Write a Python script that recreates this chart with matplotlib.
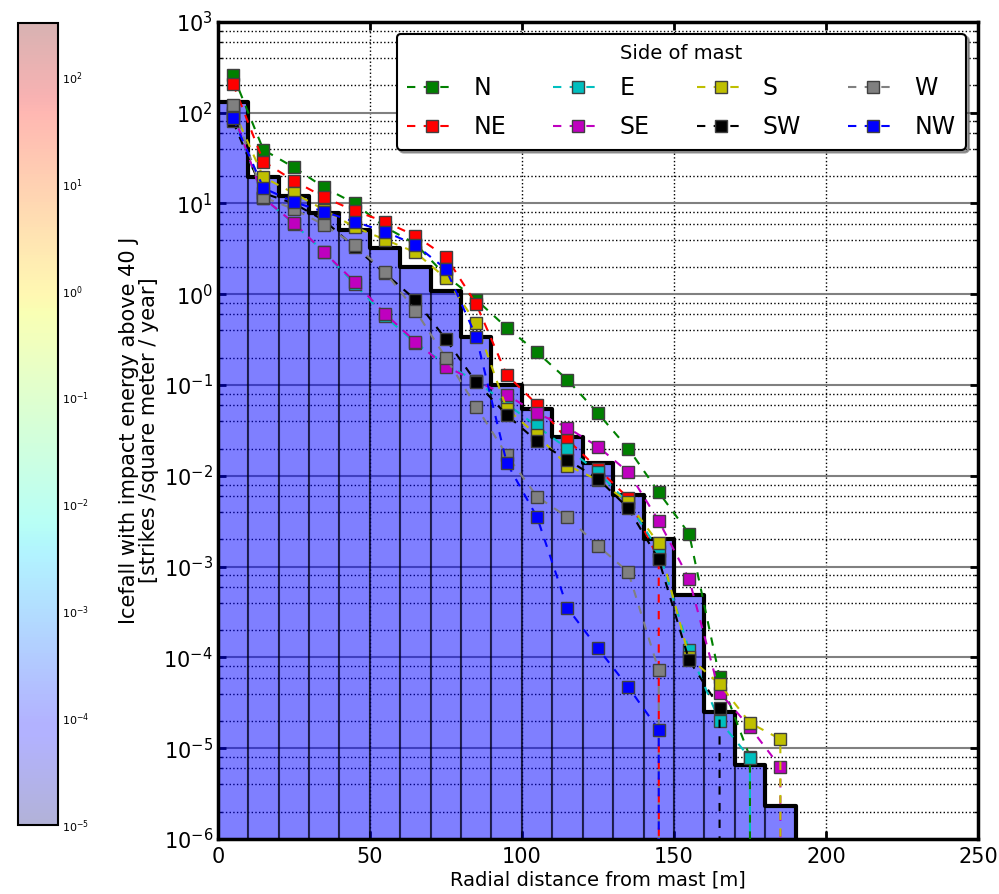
import numpy as np
import matplotlib
matplotlib.use("Agg")
import matplotlib.pyplot as plt
from matplotlib.colors import LogNorm, ListedColormap
from matplotlib.cm import ScalarMappable
from matplotlib.ticker import LogLocator, NullFormatter

# radial bins [m]
bin_edges = [0, 10, 20, 30, 40, 50, 60, 70, 80, 90, 100, 110, 120, 130, 140, 150, 160, 170, 180, 190]
# all-sides icefall density per bin (strikes / m2 / year)
all_sides = [130, 19.5, 12, 7.8, 5.1, 3.2, 2.0, 1.1, 0.34, 0.10, 0.054, 0.027, 0.014, 0.0062,
             0.0020, 4.9e-4, 2.5e-5, 6.5e-6, 2.3e-6]

# bin centres used for the per-side markers (last one is empty for all sides)
centres = [5, 15, 25, 35, 45, 55, 65, 75, 85, 95, 105, 115, 125, 135, 145, 155, 165, 175, 185, 195]

side_N = [260, 39, 25, 15, 10, 5.5, 3.6, 1.6, 0.87, 0.43, 0.23, 0.114, 0.049, 0.020, 0.0066, 0.0023, 6.1e-5, 8e-6, 0, 0]
side_NE = [208, 29, 17.8, 11.7, 8.3, 6.3, 4.4, 2.6, 0.78, 0.13, 0.061, 0.025, 0.012, 0.0057, 0.0012, 0, 0, 0, 0, 0]
side_E = [95, 11.5, 6.0, 2.9, 1.3, 0.57, 0.29, 0.17, 0.11, 0.062, 0.035, 0.020, 0.011, 0.005, 0.0015, 1.2e-4, 2.0e-5, 7.8e-6, 0, 0]
side_SE = [100, 11.5, 6.1, 2.9, 1.37, 0.61, 0.30, 0.16, 0.11, 0.078, 0.049, 0.034, 0.021, 0.011, 0.0032, 7.3e-4, 4.1e-5, 1.7e-5, 6.2e-6, 0]
side_S = [110, 19.5, 13, 8.5, 5.5, 4.0, 2.9, 1.5, 0.48, 0.055, 0.028, 0.013, 0.009, 0.0051, 0.0018, 1.0e-4, 5.1e-5, 1.9e-5, 1.26e-5, 0]
side_SW = [80, 13, 10, 6.5, 3.3, 1.7, 0.87, 0.32, 0.107, 0.047, 0.024, 0.015, 0.0093, 0.0044, 0.0012, 9.3e-5, 2.8e-5, 0, 0, 0]
side_W = [122, 11.7, 8.7, 5.8, 3.5, 1.76, 0.66, 0.20, 0.058, 0.017, 0.0059, 0.0035, 0.0017, 8.7e-4, 7.2e-5, 0, 0, 0, 0, 0]
side_NW = [87, 14.8, 10.4, 8.1, 6.3, 4.9, 3.5, 1.9, 0.34, 0.014, 0.0035, 3.5e-4, 1.26e-4, 4.7e-5, 1.6e-5, 0, 0, 0, 0, 0]

side_names = ['N', 'NE', 'E', 'SE', 'S', 'SW', 'W', 'NW']
side_values = [side_N, side_NE, side_E, side_SE, side_S, side_SW, side_W, side_NW]
side_colors = ['g', 'r', 'c', 'm', 'y', 'k', 'grey', 'b']

fig = plt.figure(figsize=(9.99, 8.94), dpi=100)
ax = fig.add_axes([0.218, 0.0615, 0.761, 0.914])

# grid first, bars are see-through on top of it
ax.set_axisbelow(True)
ax.set_yscale('log')
ax.set_xlim(0, 250)
ax.set_ylim(1e-6, 1e3)
ax.set_yticks(10.0 ** np.arange(-6, 4))
ax.yaxis.set_minor_locator(LogLocator(base=10, subs=(2, 4, 6, 8)))
ax.yaxis.set_minor_formatter(NullFormatter())
ax.yaxis.grid(True, which='major', color='0.5', ls='-', lw=1.5)
ax.yaxis.grid(True, which='minor', color='k', ls=':', lw=1.0)
ax.xaxis.grid(True, which='major', color='k', ls=':', lw=1.0)

ax.bar(bin_edges[:-1], all_sides, width=10, align='edge', color='blue', alpha=0.5,
       edgecolor='k', linewidth=1.5, zorder=1)
ax.plot(bin_edges, all_sides + [0], drawstyle='steps-post', color='k', lw=3, zorder=3)

for name, vals, col in zip(side_names, side_values, side_colors):
    ax.plot(centres, vals, '--s', color=col, lw=1.5, dashes=(4, 4), ms=8,
            mec='0.25', mew=1, label=name, zorder=4)

ax.set_xlabel('Radial distance from mast [m]', fontsize=14, labelpad=2)
ax.set_ylabel('Icefall with impact energy above 40 J\n[strikes /square meter / year]',
              fontsize=15, labelpad=3, linespacing=1.0)
ax.tick_params(which='both', direction='in', top=True, right=True, labelsize=15)
ax.tick_params(which='major', length=6, width=2)
ax.tick_params(which='minor', length=3, width=1)
ax.tick_params(axis='x', pad=6)
for sp in ax.spines.values():
    sp.set_linewidth(2.5)

leg = ax.legend(loc='upper right', ncol=4, title='Side of mast', fontsize=17,
                title_fontsize=14, numpoints=1, handlelength=2.1, columnspacing=2.0,
                borderaxespad=0.5, fancybox=True, shadow=True, framealpha=1,
                labelspacing=0.65, handletextpad=0.7, borderpad=0.45)
leg.get_frame().set_edgecolor('k')
leg.get_frame().set_linewidth(1.5)
leg._legend_box.sep = 9

# colour bar on the left
jet = plt.get_cmap('jet')(np.linspace(0, 1, 256))
jet[:, 3] = 0.3
cax = fig.add_axes([0.018, 0.077, 0.040, 0.897])
sm = ScalarMappable(norm=LogNorm(1e-5, 10 ** 2.5), cmap=ListedColormap(jet))
cb = fig.colorbar(sm, cax=cax)
cb.set_ticks(10.0 ** np.arange(-5, 3))
cb.ax.tick_params(labelsize=8, length=0, pad=3)
cb.ax.minorticks_off()
cb.outline.set_linewidth(1.5)

fig.savefig('out.png', dpi=100)
